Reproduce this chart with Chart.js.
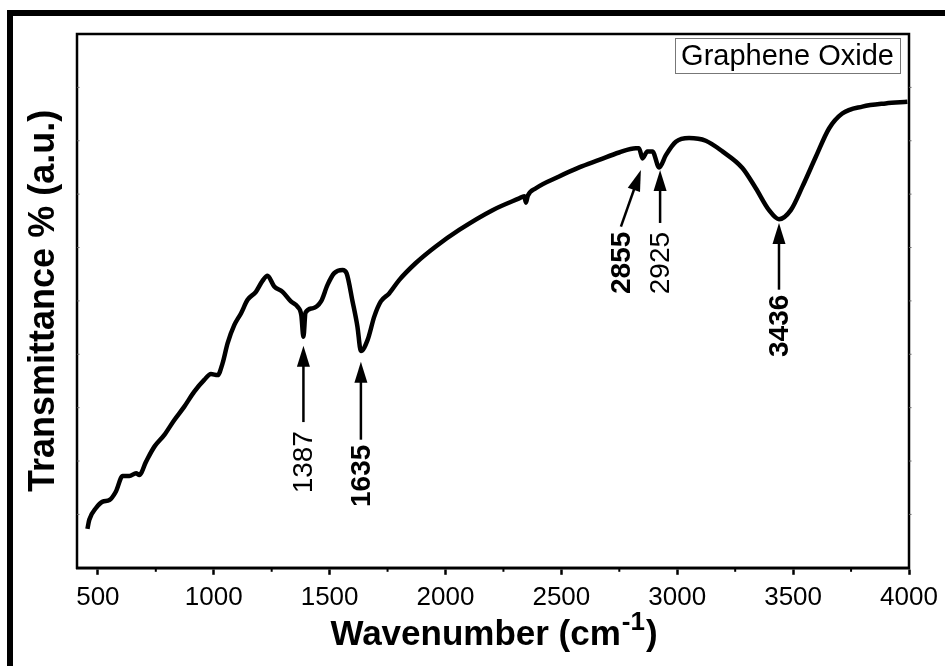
<!DOCTYPE html>
<html>
<head>
<meta charset="utf-8">
<script src="https://cdn.jsdelivr.net/npm/chart.js@4.4.1/dist/chart.umd.min.js"></script>
<style>
  html, body { margin: 0; padding: 0; background: #fff; }
  canvas { display: block; }
</style>
</head>
<body>
<canvas id="ftir" width="945" height="666"></canvas>
<script>
(function () {
  'use strict';

  // ── Spectrum (wavenumber cm-1 / transmittance a.u.) ──
  var wavenumber = [
    455, 463, 492, 521, 550, 578, 607, 636, 665, 679, 708, 744, 787, 830, 873,
    916, 959, 988, 1017, 1038, 1060, 1089, 1118, 1146, 1182, 1211, 1232, 1261,
    1297, 1333, 1362, 1378, 1387, 1396, 1426, 1463, 1491, 1520, 1556, 1573,
    1599, 1620, 1635, 1664, 1693, 1721, 1757, 1800, 1872, 1958, 2059, 2203,
    2318, 2340, 2347, 2355, 2390, 2490, 2577, 2663, 2749, 2821, 2835, 2850,
    2871, 2893, 2922, 2951, 2994, 3051, 3123, 3195, 3281, 3339, 3396, 3439,
    3490, 3540, 3598, 3655, 3712, 3799, 3899, 3993
  ];
  var transmittance = [
    7.3, 9.0, 11.2, 12.4, 12.7, 14.3, 17.2, 17.2, 17.7, 17.4, 19.9, 22.7, 24.9,
    27.7, 30.2, 33.0, 35.2, 36.3, 36.1, 38.3, 42.1, 45.5, 47.7, 50.2, 51.7,
    53.8, 54.7, 52.7, 51.7, 49.9, 48.9, 47.3, 43.3, 47.8, 48.6, 49.9, 53.0,
    55.2, 55.8, 55.2, 49.9, 45.2, 40.6, 42.7, 47.1, 49.9, 51.4, 53.9, 57.1,
    60.2, 63.3, 67.0, 69.2, 69.6, 68.4, 69.7, 71.1, 73.3, 75.0, 76.4, 77.8,
    78.6, 78.6, 76.7, 78.0, 78.0, 75.0, 77.3, 79.8, 80.5, 80.0, 78.0, 74.9,
    71.1, 67.0, 65.3, 67.0, 71.4, 77.0, 82.3, 85.1, 86.4, 87.0, 87.3
  ];

  // ── Axis ticks ─────────────────────────────────────────────────────────
  var xMajorTicks = [500, 1000, 1500, 2000, 2500, 3000, 3500, 4000];
  var xMinorTicks = [750, 1250, 1750, 2250, 2750, 3250, 3750];
  var yTicks = [10, 20, 30, 40, 50, 60, 70, 80, 90];

  // ── Peak annotations ───────────────────────────────────────────────────
  var peakLabels = ['1387', '1635', '2855', '2925', '3436'];
  var peakBold = [false, true, true, false, true];
  var arrowTipX = [1387, 1635, 2843, 2926, 3439];
  var arrowTipY = [41.6, 38.6, 74.5, 74.5, 64.6];
  var arrowTailX = [1387, 1635, 2757, 2926, 3439];
  var arrowTailY = [27.3, 24.0, 63.9, 64.6, 52.1];

  var FONT = '"Liberation Sans", Arial, sans-serif';

  var points = wavenumber.map(function (w, i) {
    return { x: w, y: transmittance[i] };
  });

  function drawArrow(ctx, x0, y0, x1, y1) {
    var ang = Math.atan2(y1 - y0, x1 - x0);
    var headLen = 21, headHalf = 6.5;
    var bx = x1 - Math.cos(ang) * headLen;
    var by = y1 - Math.sin(ang) * headLen;
    ctx.beginPath();
    ctx.moveTo(x0, y0);
    ctx.lineTo(bx + Math.cos(ang) * 2, by + Math.sin(ang) * 2);
    ctx.stroke();
    ctx.beginPath();
    ctx.moveTo(x1, y1);
    ctx.lineTo(bx + Math.sin(ang) * headHalf, by - Math.cos(ang) * headHalf);
    ctx.lineTo(bx - Math.sin(ang) * headHalf, by + Math.cos(ang) * headHalf);
    ctx.closePath();
    ctx.fill();
  }

  var decor = {
    id: 'decor',
    beforeDraw: function (chart) {
      var ctx = chart.ctx;
      ctx.save();
      ctx.fillStyle = '#fff';
      ctx.fillRect(0, 0, chart.width, chart.height);
      // outer picture frame (cut off at right / bottom)
      ctx.strokeStyle = '#000';
      ctx.lineWidth = 6;
      ctx.beginPath();
      ctx.moveTo(10, chart.height + 5);
      ctx.lineTo(10, 13);
      ctx.lineTo(chart.width + 5, 13);
      ctx.stroke();
      ctx.restore();
    },
    afterDraw: function (chart) {
      var ctx = chart.ctx;
      var a = chart.chartArea;
      var xs = chart.scales.x, ys = chart.scales.y;
      ctx.save();
      ctx.strokeStyle = '#000';
      ctx.fillStyle = '#000';

      // plot frame
      ctx.lineWidth = 2.5;
      ctx.strokeRect(a.left, a.top, a.right - a.left, a.bottom - a.top);

      // minor x ticks
      ctx.lineWidth = 2;
      xMinorTicks.forEach(function (v) {
        var px = xs.getPixelForValue(v);
        ctx.beginPath();
        ctx.moveTo(px, a.bottom);
        ctx.lineTo(px, a.bottom + 4);
        ctx.stroke();
      });
      // y ticks (no labels), faint as in the original
      ctx.lineWidth = 1;
      ctx.strokeStyle = '#666';
      yTicks.forEach(function (v) {
        var py = ys.getPixelForValue(v);
        ctx.beginPath();
        ctx.moveTo(a.left, py);
        ctx.lineTo(a.left + 2.5, py);
        ctx.moveTo(a.right, py);
        ctx.lineTo(a.right + 2.5, py);
        ctx.stroke();
      });

      // legend box
      var bw = 225, bh = 35;
      var bx = a.right - 9 - bw, by = a.top + 4;
      ctx.lineWidth = 1;
      ctx.strokeStyle = '#777';
      ctx.strokeRect(bx + 0.5, by + 0.5, bw, bh);
      ctx.font = '29px ' + FONT;
      ctx.textAlign = 'center';
      ctx.textBaseline = 'middle';
      ctx.fillText('Graphene Oxide', bx + bw / 2, by + bh / 2 + 1);

      // arrows + rotated peak labels
      ctx.strokeStyle = '#000';
      ctx.lineWidth = 2.5;
      peakLabels.forEach(function (lbl, i) {
        var tx = xs.getPixelForValue(arrowTipX[i]);
        var ty = ys.getPixelForValue(arrowTipY[i]);
        var sx = xs.getPixelForValue(arrowTailX[i]);
        var sy = ys.getPixelForValue(arrowTailY[i]);
        drawArrow(ctx, sx, sy, tx, ty);
        ctx.save();
        ctx.translate(sx, sy + (peakBold[i] ? 5 : 9));
        ctx.rotate(-Math.PI / 2);
        ctx.font = (peakBold[i] ? 'bold ' : '') + '28px ' + FONT;
        ctx.textAlign = 'right';
        ctx.textBaseline = 'middle';
        ctx.fillText(lbl, 0, 1);
        ctx.restore();
      });

      // y title
      ctx.save();
      ctx.translate(44, (a.top + a.bottom) / 2);
      ctx.rotate(-Math.PI / 2);
      ctx.font = 'bold 36px ' + FONT;
      ctx.textAlign = 'center';
      ctx.textBaseline = 'middle';
      ctx.fillText('Transmittance % (a.u.)', 0, 0);
      ctx.restore();

      // x title with superscript
      var main = 'bold 35px ' + FONT, sup = 'bold 26px ' + FONT;
      var t1 = 'Wavenumber (cm', t2 = '-1', t3 = ')';
      ctx.font = main;
      var w1 = ctx.measureText(t1).width, w3 = ctx.measureText(t3).width;
      ctx.font = sup;
      var w2 = ctx.measureText(t2).width;
      var x0 = (a.left + a.right) / 2 - (w1 + w2 + w3) / 2;
      var base = 645;
      ctx.textAlign = 'left';
      ctx.textBaseline = 'alphabetic';
      ctx.font = main;
      ctx.fillText(t1, x0, base);
      ctx.font = sup;
      ctx.fillText(t2, x0 + w1 + 1, base - 15);
      ctx.font = main;
      ctx.fillText(t3, x0 + w1 + w2 + 2, base);

      ctx.restore();
    }
  };

  new Chart(document.getElementById('ftir').getContext('2d'), {
    type: 'line',
    data: {
      datasets: [{
        label: 'Graphene Oxide',
        data: points,
        borderColor: '#000',
        borderWidth: 4.5,
        pointRadius: 0,
        fill: false,
        cubicInterpolationMode: 'monotone'
      }]
    },
    options: {
      responsive: false,
      animation: false,
      devicePixelRatio: 1,
      layout: { padding: { left: 77, right: 36, top: 34, bottom: 46 } },
      plugins: { legend: { display: false }, tooltip: { enabled: false } },
      scales: {
        x: {
          type: 'linear',
          min: 410,
          max: 4000,
          afterBuildTicks: function (scale) {
            scale.ticks = xMajorTicks.map(function (v) { return { value: v }; });
          },
          grid: {
            drawOnChartArea: false,
            drawTicks: true,
            tickLength: 7,
            tickWidth: 2.5,
            tickColor: '#000'
          },
          border: { display: true, color: '#000', width: 2.5 },
          ticks: {
            color: '#000',
            padding: 7,
            maxRotation: 0,
            autoSkip: false,
            font: { family: FONT, size: 26 },
            callback: function (v) { return String(v); }
          }
        },
        y: {
          display: false,
          min: 0,
          max: 100
        }
      }
    },
    plugins: [decor]
  });
})();
</script>
</body>
</html>
